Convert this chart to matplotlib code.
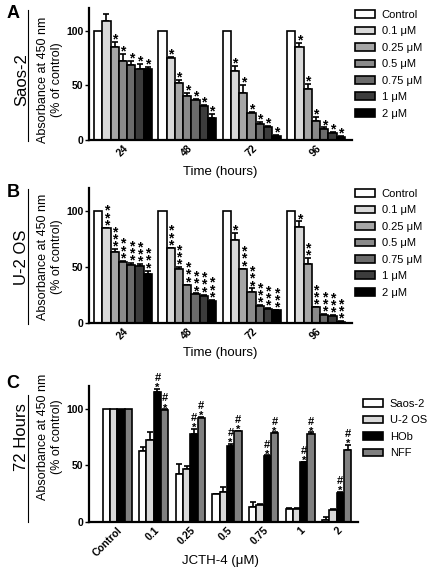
import numpy as np
import matplotlib
matplotlib.use('Agg')
import matplotlib.pyplot as plt
from matplotlib.patches import Patch
from matplotlib.lines import Line2D

plt.rcParams['font.family'] = ['Liberation Sans', 'DejaVu Sans']

# ---- data ----
times = ['24', '48', '72', '96']
conc_labels = ['Control', '0.1 μM', '0.25 μM', '0.5 μM', '0.75 μM', '1 μM', '2 μM']
conc_colors = ['#ffffff', '#d9d9d9', '#a6a6a6', '#8a8a8a', '#6b6b6b', '#3c3c3c', '#000000']

# Saos-2, rows = concentration, cols = time
saos_mean = [[100, 100, 100, 100],
             [109, 75, 63, 85],
             [85, 52, 43, 47],
             [72, 40, 25, 17],
             [69, 37, 14.5, 10.5],
             [65, 31, 12, 6],
             [65, 20.5, 3.5, 3]]
saos_err = [[0, 0, 0, 0],
            [6, 1, 5, 3.5],
            [5, 3, 7, 4],
            [6.5, 3, 1, 4],
            [3.5, 0.5, 2, 1],
            [4.5, 1, 0.7, 1],
            [1.5, 3, 1, 0.7]]
saos_stars = [[0, 0, 0, 0],
              [0, 1, 1, 1],
              [1, 1, 1, 1],
              [1, 1, 1, 1],
              [1, 1, 1, 1],
              [1, 1, 1, 1],
              [1, 1, 1, 1]]

# U-2 OS
u2os_mean = [[100, 100, 100, 100],
             [85, 67, 74, 86],
             [64, 48, 48, 53],
             [55, 34, 27.5, 14],
             [52, 26, 15.5, 7],
             [51, 24.5, 12.8, 6],
             [44, 20, 11.3, 1.2]]
u2os_err = [[0, 0, 0, 0],
            [0.5, 0.5, 6.5, 5],
            [2.5, 2, 0.8, 5],
            [0.8, 0.5, 3.5, 0.5],
            [1.5, 0.5, 0.5, 1],
            [2, 1, 0.7, 1],
            [3, 1, 0.5, 0.3]]
u2os_stars = [[0, 0, 0, 0],
              [3, 3, 1, 1],
              [3, 3, 3, 2],
              [3, 3, 3, 3],
              [3, 3, 3, 3],
              [3, 3, 3, 3],
              [3, 3, 3, 3]]

# 72 hours, all cell lines
doses = ['Control', '0.1', '0.25', '0.5', '0.75', '1', '2']
cells = ['Saos-2', 'U-2 OS', 'HOb', 'NFF']
cell_colors = ['#ffffff', '#d9d9d9', '#000000', '#808080']
c_mean = [[100, 62.3, 42.4, 24.3, 13.5, 11.8, 2],
          [100, 72.7, 46.6, 26.7, 15, 11.7, 10.6],
          [100, 114.7, 77.7, 66.8, 58.2, 52.8, 26],
          [100, 98.8, 92, 80, 78.6, 77.7, 63.5]]
c_err = [[0, 3.7, 8.6, 0.7, 3.8, 0.5, 2.2],
         [0, 6.3, 2.4, 4.3, 0.7, 0.9, 1.1],
         [0, 3, 4.3, 2, 0.5, 0.5, 0.5],
         [0, 0.7, 1, 0.5, 0.5, 1.3, 4.4]]
c_marks = [[0, 0, 0, 0, 0, 0, 0],
           [0, 0, 0, 0, 0, 0, 0],
           [0, 1, 1, 1, 1, 1, 1],
           [0, 1, 1, 1, 1, 1, 1]]

W, H = 430, 570
fig = plt.figure(figsize=(W / 100, H / 100), dpi=100)


def add_ax(left, right, top, bottom):
    return fig.add_axes([left / W, 1 - bottom / H, (right - left) / W, (bottom - top) / H])


def style_ax(ax, ymax):
    ax.set_ylim(0, ymax)
    ax.set_yticks([0, 50, 100])
    for s in ['top', 'right']:
        ax.spines[s].set_visible(False)
    for s in ['left', 'bottom']:
        ax.spines[s].set_linewidth(1.6)
    ax.tick_params(axis='y', length=3, width=1, pad=1, labelsize=7.5)
    ax.tick_params(axis='x', length=0, pad=2, labelsize=7.5)
    for lab in ax.get_yticklabels():
        lab.set_fontweight('bold')


def marks(ax, x, y, text, size=10, spacing=0.38, off=-3.3):
    # stacked significance symbols, one text per bar
    ax.annotate(text, xy=(x, y), xytext=(0, off), textcoords='offset points',
                ha='center', va='bottom', fontsize=size, fontweight='bold',
                linespacing=spacing, annotation_clip=False)


def time_panel(ax, means, errs, nstars):
    gap = 7.77
    for j in range(7):
        xs = np.arange(4) * gap + (j - 3)
        m = np.array(means[j], float)
        e = np.array(errs[j], float)
        ax.bar(xs, m, width=1, color=conc_colors[j], edgecolor='black', linewidth=1.2, zorder=2)
        if j > 0:
            ax.errorbar(xs, m, yerr=[np.zeros(4), e], fmt='none', ecolor='black',
                        elinewidth=1.2, capsize=2.3, capthick=1.2, zorder=1)
            for i in range(4):
                if nstars[j][i]:
                    marks(ax, xs[i], m[i] + e[i], '\n'.join(['*'] * nstars[j][i]))
    ax.set_xlim(-4.1, 3 * gap + 4.35)
    ax.set_xticks(np.arange(4) * gap)
    ax.set_xticklabels(times, rotation=45, ha='right', va='top', rotation_mode='anchor',
                       fontweight='bold')
    style_ax(ax, 121)


def side_labels(yc, name, line_top, line_bot):
    fig.text(22 / W, 1 - yc / H, name, rotation=90, ha='center', va='center', fontsize=12)
    fig.add_artist(Line2D([28 / W, 28 / W], [1 - line_top / H, 1 - line_bot / H],
                          color='black', linewidth=0.8))
    fig.text(50 / W, 1 - yc / H, 'Absorbance at 450 nm\n(% of control)', rotation=90,
             ha='center', va='center', fontsize=9, multialignment='center', linespacing=1.15)


def conc_legend(ytop, labels, colors, xleft):
    handles = [Patch(facecolor=c, edgecolor='black', linewidth=1.2) for c in colors]
    fig.legend(handles, labels, loc='upper left', bbox_to_anchor=(xleft / W, 1 - ytop / H),
               frameon=False, fontsize=8, handlelength=1.8, handleheight=0.7,
               handletextpad=0.6, labelspacing=0.58, borderpad=0, borderaxespad=0)


# ---- panel A ----
axA = add_ax(89, 352, 7.7, 140)
time_panel(axA, saos_mean, saos_err, saos_stars)
fig.text(220 / W, 1 - 172 / H, 'Time (hours)', ha='center', va='center', fontsize=9.5)
side_labels(80, 'Saos-2', 10, 141)
fig.text(13 / W, 1 - 13 / H, 'A', ha='center', va='center', fontsize=13, fontweight='bold')
conc_legend(10, conc_labels, conc_colors, 355)

# ---- panel B ----
axB = add_ax(89, 352, 188, 323)
time_panel(axB, u2os_mean, u2os_err, u2os_stars)
fig.text(220 / W, 1 - 353 / H, 'Time (hours)', ha='center', va='center', fontsize=9.5)
side_labels(257, 'U-2 OS', 189, 324)
fig.text(13 / W, 1 - 193 / H, 'B', ha='center', va='center', fontsize=13, fontweight='bold')
conc_legend(189, conc_labels, conc_colors, 355)

# ---- panel C ----
axC = add_ax(89, 358, 386, 522)
for j in range(4):
    xs = np.arange(7) * 5 + (j - 1.5)
    m = np.array(c_mean[j], float)
    e = np.array(c_err[j], float)
    axC.bar(xs, m, width=1, color=cell_colors[j], edgecolor='black', linewidth=1.2, zorder=2)
    axC.errorbar(xs[1:], m[1:], yerr=[np.zeros(6), e[1:]], fmt='none', ecolor='black',
                 elinewidth=1.2, capsize=2.3, capthick=1.2, zorder=1)
    for i in range(7):
        if c_marks[j][i]:
            marks(axC, xs[i], m[i] + e[i], '#\n*', size=8, spacing=1.0, off=-3.0)
axC.set_xlim(-3.85, 6 * 5 + 2.9)
axC.set_xticks(np.arange(7) * 5)
axC.set_xticklabels(doses, rotation=45, ha='right', va='top', rotation_mode='anchor',
                    fontweight='bold')
style_ax(axC, 120)
fig.text(220 / W, 1 - 561 / H, 'JCTH-4 (μM)', ha='center', va='center', fontsize=9.5)
side_labels(437, '72 Hours', 395, 522)
fig.text(13 / W, 1 - 383 / H, 'C', ha='center', va='center', fontsize=13, fontweight='bold')
conc_legend(399, cells, cell_colors, 363)

fig.savefig('out.png', dpi=100)
